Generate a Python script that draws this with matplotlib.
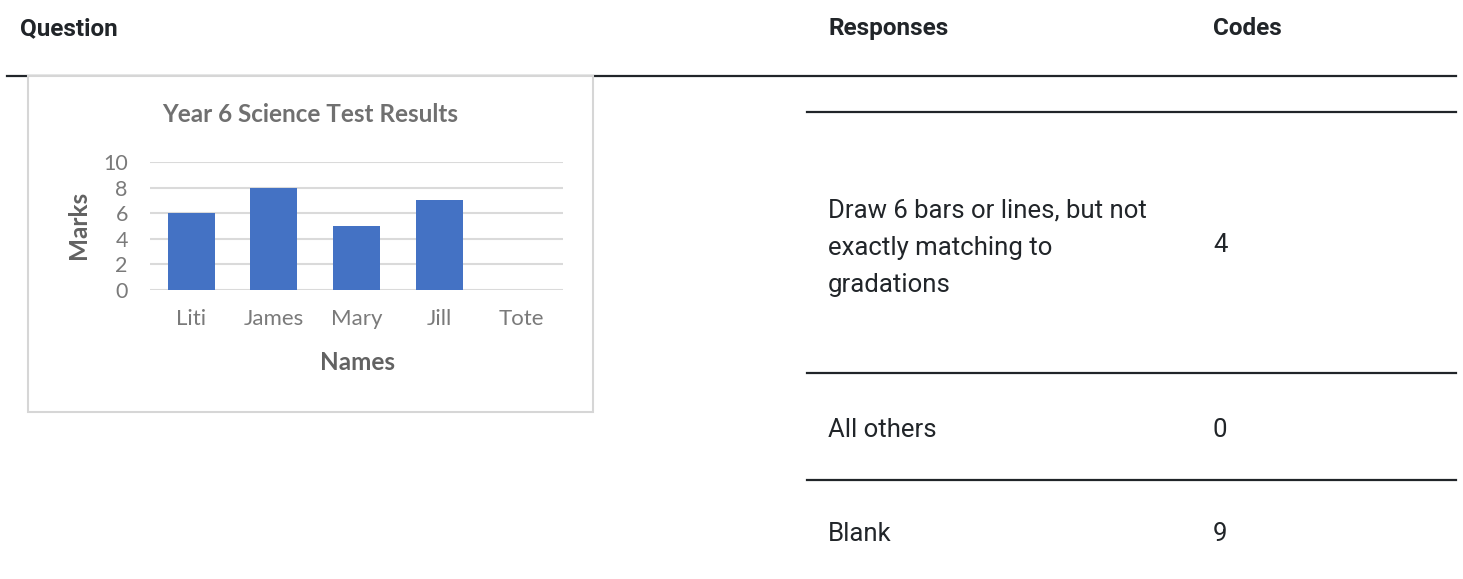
import matplotlib
matplotlib.use("Agg")
import matplotlib.pyplot as plt
from matplotlib.lines import Line2D
from matplotlib.patches import Rectangle

# chart data
names = ["Liti", "James", "Mary", "Jill", "Tote"]
marks = [6, 8, 5, 7, 0]
yticks = [0, 2, 4, 6, 8, 10]

# table data
headers = ["Question", "Responses", "Codes"]
responses = ["Draw 6 bars or lines, but not\nexactly matching to\ngradations", "All others", "Blank"]
codes = ["4", "0", "9"]

W, H = 1463, 579
ink = "#212529"

def fx(x):
    return x / W

def fy(y):
    return 1 - y / H

fig = plt.figure(figsize=(W / 100, H / 100), dpi=100)
fig.patch.set_facecolor("white")

def hline(x0, x1, y, z=1):
    fig.add_artist(Line2D([fx(x0), fx(x1)], [fy(y), fy(y)], color=ink, lw=1.6, zorder=z))

# table header
hfont = dict(family=["Roboto", "DejaVu Sans"], fontsize=17.5, fontweight="bold", color=ink, va="baseline")
fig.text(fx(20), fy(35), headers[0], **hfont)
fig.text(fx(828), fy(35), headers[1], **hfont)
fig.text(fx(1213), fy(35), headers[2], **hfont)
hline(7, 1456, 76)

# response rows
for y in [112, 373, 480]:
    hline(807, 1456, y)

bfont = dict(family=["Roboto", "DejaVu Sans"], fontsize=18.5, color=ink, va="baseline", linespacing=1.71)
fig.text(fx(828), fy(292), responses[0], **bfont)
fig.text(fx(1213), fy(252), codes[0], **bfont)
fig.text(fx(828), fy(437), responses[1], **bfont)
fig.text(fx(1213), fy(437), codes[1], **bfont)
fig.text(fx(828), fy(541), responses[2], **bfont)
fig.text(fx(1213), fy(541), codes[2], **bfont)

# chart picture frame
box = Rectangle((fx(28), fy(412)), fx(593) - fx(28), fy(76) - fy(412),
                transform=fig.transFigure, facecolor="white", edgecolor="#d6d6d6", lw=1.5, zorder=2)
fig.add_artist(box)

cfont = ["Lato", "DejaVu Sans"]
ax = fig.add_axes([fx(150), fy(290), fx(563) - fx(150), fy(162) - fy(290)], zorder=3)
ax.patch.set_alpha(0)
ax.bar(range(len(names)), marks, width=0.57, color="#4472C4", zorder=3)
ax.set_xlim(-0.5, len(names) - 0.5)
ax.set_ylim(0, 10)
ax.set_yticks(yticks)
ax.set_xticks(range(len(names)))
ax.set_xticklabels(names)
ax.grid(axis="y", color="#dadada", lw=1.5, zorder=0)
ax.set_axisbelow(True)
for s in ax.spines.values():
    s.set_visible(False)
ax.tick_params(axis="x", length=0, pad=14, labelsize=16, labelcolor="#7a7a7a")
ax.tick_params(axis="y", length=0, pad=16, labelsize=15.5, labelcolor="#7a7a7a")
for lab in ax.get_xticklabels() + ax.get_yticklabels():
    lab.set_family(cfont)

fig.text(fx(310), fy(114), "Year 6 Science Test Results", family=cfont, fontsize=17.5,
         fontweight="bold", color="#707070", ha="center", va="center", zorder=4)
fig.text(fx(357), fy(362), "Names", family=cfont, fontsize=17.5, fontweight="bold",
         color="#626262", ha="center", va="center", zorder=4)
fig.text(fx(78), fy(225), "Marks", family=cfont, fontsize=17.5, fontweight="bold",
         color="#626262", ha="center", va="center", rotation=90, zorder=4)

fig.savefig("out.png", dpi=100)
